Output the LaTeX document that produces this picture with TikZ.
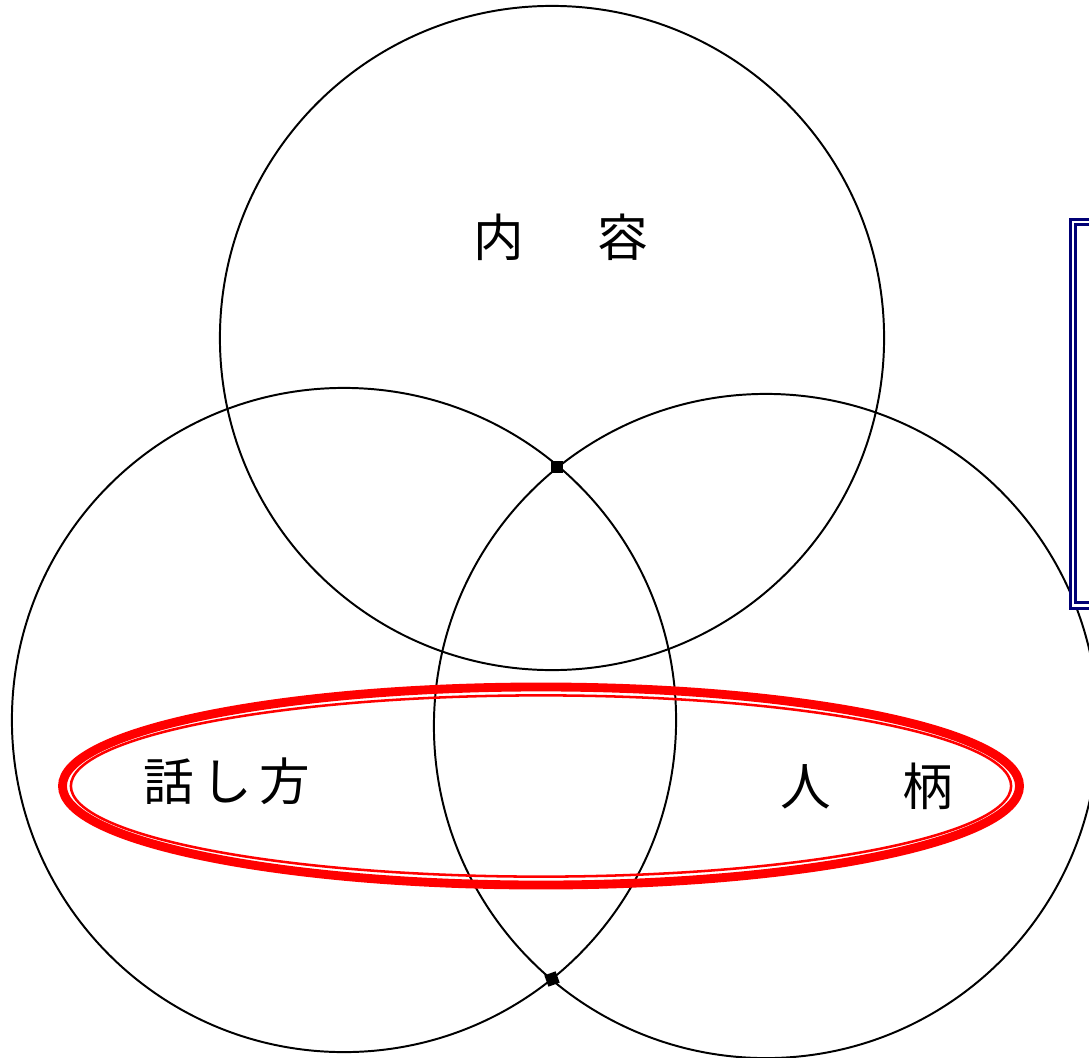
\documentclass[tikz,border=0pt]{standalone}
\usepackage{fontspec}
\newfontfamily\jpfont{Noto Sans CJK JP}
\usetikzlibrary{shapes.geometric}

\begin{document}
\begin{tikzpicture}[
    x=0.025cm, y=-0.025cm,
    ring/.style={draw, circle, line width=1.4pt, inner sep=0pt, minimum size=16.6cm},
    word/.style={font=\jpfont\fontsize{36}{40}\selectfont, inner sep=0pt},
    knot/.style={fill=black, rectangle, inner sep=0pt, minimum size=0.3cm},
    frame/.style={draw=blue!40!black!90!blue, double=white, line width=2.1pt, double distance=2.1pt}
]

% Canvas
\useasboundingbox (0,0) rectangle (1089,1057);
\clip (0,0) rectangle (1089,1057);

% -------------------------
% The three circles
% -------------------------
\node[ring] (content) at (552,338) {};
\node[ring] (speech) at (344,720) {};
\node[ring] (person) at (766,726) {};

% Points where the lower circles cross
\node[knot] (crossA) at (557,467) {};
\node[knot, rotate=20] (crossB) at (552,979) {};

% -------------------------
% Red double ellipse
% -------------------------
\node[draw=red, ellipse, line width=6.3pt, inner sep=0pt,
      minimum width=23.92cm, minimum height=4.95cm] (band) at (541,786) {};
\node[draw=red, ellipse, line width=1.8pt, inner sep=0pt,
      minimum width=23.5cm, minimum height=4.53cm] (bandin) at (541,786) {};

% -------------------------
% Navy box at the right edge
% -------------------------
\node[frame, rectangle, inner sep=0pt, anchor=north west,
      minimum width=4cm, minimum height=9.58cm] (box) at (1071.5,220.5) {};

% -------------------------
% Labels
% -------------------------
\node[word] (lblcontent) at (561,237) {内\hspace{1.45em}容};
\node[word] (lblspeech) at (227,781) {話\hspace{0.15em}し\hspace{0.15em}方};
\node[word] (lblperson) at (867,786) {人\hspace{1.4em}柄};

\end{tikzpicture}
\end{document}
